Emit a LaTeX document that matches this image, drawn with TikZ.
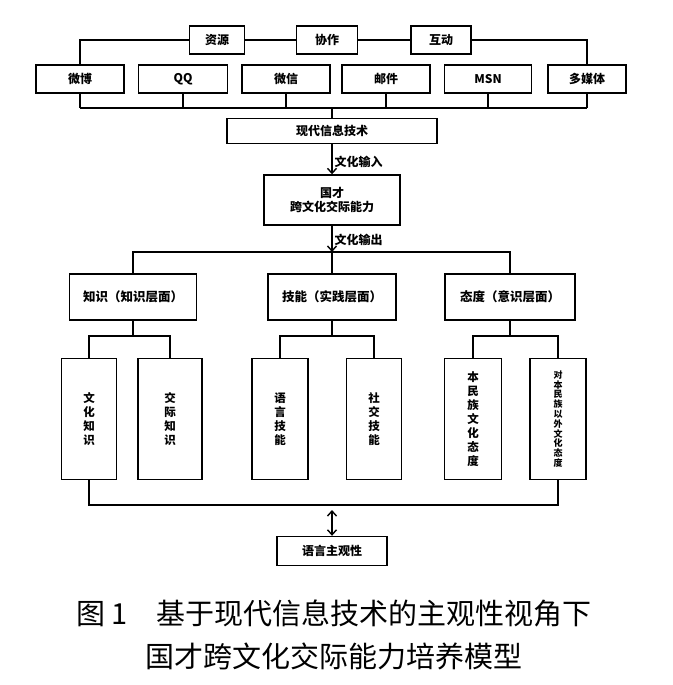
\documentclass[tikz,border=0pt]{standalone}
\usepackage{fontspec}
\setmainfont{Noto Sans CJK SC}[BoldFont={Noto Sans CJK SC Black}]
\usetikzlibrary{arrows.meta}
\tikzset{
  box/.style={draw=black, line width=1.4pt, fill=white, inner sep=0pt, minimum height=28pt,
    font=\bfseries\fontsize{12}{14}\selectfont},
  midbox/.style={box, minimum height=46pt, font=\bfseries\fontsize{12.5}{14}\selectfont},
  vbox/.style={box, minimum width=56pt, minimum height=121pt, align=center,
    font=\bfseries\fontsize{11.5}{14}\selectfont},
  link/.style={draw=black, line width=1.4pt},
  arr/.style={link, -{Straight Barb[length=5pt,width=9pt]}},
  dbl/.style={link, {Straight Barb[length=5pt,width=9pt]}-{Straight Barb[length=5pt,width=9pt]}},
  lab/.style={font=\bfseries\fontsize{12}{14}\selectfont, inner sep=2pt},
  captext/.style={font=\fontsize{29}{32}\selectfont, inner sep=0pt},
}

\begin{document}
\begin{tikzpicture}[x=1pt, y=-1pt]
  \useasboundingbox (0,0) rectangle (672,685);
  % top row
  \node[box, minimum width=55pt] (zy) at (217,40) {资源};
  \node[box, minimum width=61pt] (xz) at (327,40) {协作};
  \node[box, minimum width=60pt] (hd) at (441,40) {互动};
  % tools
  \node[box, minimum width=88pt] (wb)  at (80,79)  {微博};
  \node[box, minimum width=89pt] (qq)  at (183,79) {QQ};
  \node[box, minimum width=88pt] (wx)  at (286,79) {微信};
  \node[box, minimum width=88pt] (yj)  at (386,79) {邮件};
  \node[box, minimum width=87pt] (msn) at (488,79) {MSN};
  \node[box, minimum width=78pt] (dmt) at (587,79) {多媒体};
  \node[box, minimum width=210pt, minimum height=25pt] (xd) at (332,131) {现代信息技术};
  \node[box, minimum width=136pt, minimum height=50pt, align=center] (gc) at (332,200) {国才\\跨文化交际能力};
  % three aspects
  \node[midbox, minimum width=127pt] (zs) at (133,297) {知识（知识层面）};
  \node[midbox, minimum width=128pt] (jn) at (332,297) {技能（实践层面）};
  \node[midbox, minimum width=130pt] (td) at (510,297) {态度（意识层面）};
  \node[vbox, minimum width=55pt] (whzs) at (89,419)  {文\\化\\知\\识};
  \node[vbox, minimum width=64pt] (jjzs) at (170,419) {交\\际\\知\\识};
  \node[vbox] (yyjn) at (280,419) {语\\言\\技\\能};
  \node[vbox, minimum width=55pt] (sjjn) at (374,419) {社\\交\\技\\能};
  \node[vbox, minimum width=57pt] (bmz) at (473,419) {本\\民\\族\\文\\化\\态\\度};
  \node[vbox, font=\bfseries\fontsize{9}{9.8}\selectfont] (ymz) at (558,419)
    {对\\本\\民\\族\\以\\外\\文\\化\\态\\度};
  \node[box, minimum width=110pt, minimum height=29pt] (zgx) at (332,551) {语言主观性};
  % caption
  \node[captext] (cap1) at (334,613) {图 1\quad 基于现代信息技术的主观性视角下};
  \node[captext] (cap2) at (334,656) {国才跨文化交际能力培养模型};

  \coordinate (bus) at (332,108);
  \coordinate (split) at (332,252);
  \coordinate (join) at (332,505);
  \draw[link] (wb.north) |- (zy.west);
  \draw[link] (zy) -- (xz);
  \draw[link] (xz) -- (hd);
  \draw[link] (hd.east) -| (dmt.north);
  \foreach \n in {wb,qq,wx,yj,msn,dmt}
    \draw[link] (\n.south) -- (\n.south |- bus);
  \draw[link] (wb.south |- bus) -- (dmt.south |- bus);
  \draw[link] (bus) -- (xd.north);
  \draw[arr] (xd.south) -- (gc.north) node[lab, right, pos=0.6] {文化输入};
  \draw[arr] (gc.south) -- (split) node[lab, right, pos=0.55] {文化输出};
  \draw[link] (zs.north) |- (split) -| (td.north);
  \draw[link] (jn.north) -- (split);
  % branches
  \draw[link] (whzs.north) |- (zs.south |- 0,336) -| (jjzs.north);
  \draw[link] (zs.south) -- (zs.south |- 0,336);
  \draw[link] (yyjn.north) |- (jn.south |- 0,336) -| (sjjn.north);
  \draw[link] (jn.south) -- (jn.south |- 0,336);
  \draw[link] (bmz.north) |- (td.south |- 0,336) -| (ymz.north);
  \draw[link] (td.south) -- (td.south |- 0,336);
  \draw[link] (whzs.south) |- (join) -| (ymz.south);
  \draw[dbl, shorten <=5pt] (join) -- (zgx.north);
\end{tikzpicture}
\end{document}
